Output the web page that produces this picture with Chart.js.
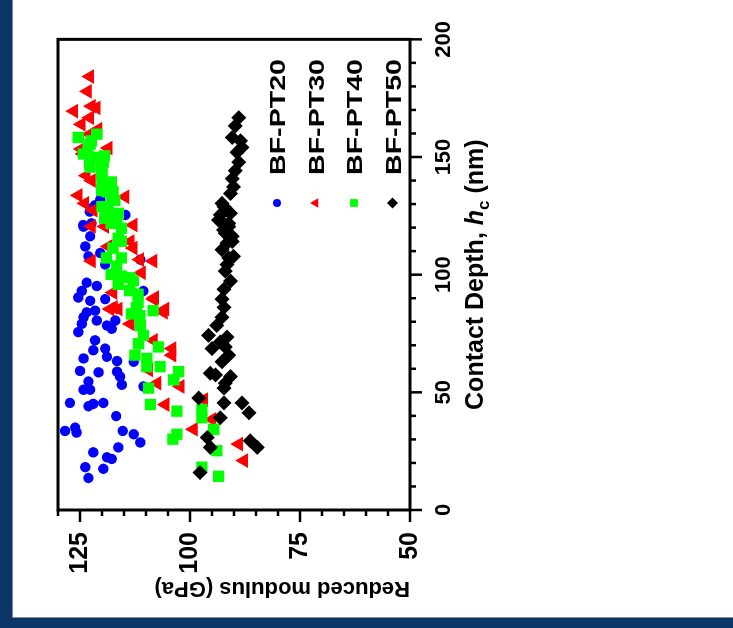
<!DOCTYPE html>
<html>
<head>
<meta charset="utf-8">
<script src="https://cdn.jsdelivr.net/npm/chart.js@4.4.1/dist/chart.umd.min.js"></script>
<style>
  html, body { margin: 0; padding: 0; width: 733px; height: 628px; overflow: hidden; background: #0a3768; }
  #panel { position: absolute; left: 12px; top: 0; width: 720px; height: 617px; background: #fff;
           border-left: 1px solid #8a8a8a; border-bottom: 1px solid #8a8a8a; }
  /* chart is drawn upright and turned a quarter turn to the left */
  #wrap { position: absolute; left: 0; top: 628px; width: 628px; height: 733px;
          transform-origin: 0 0; transform: rotate(-90deg); }
</style>
</head>
<body>
<div id="panel"></div>
<div id="wrap"><canvas id="chart"></canvas></div>
<script>
// data: contact depth (nm) vs reduced modulus (GPa)
const seriesNames = ["BF-PT20", "BF-PT30", "BF-PT40", "BF-PT50"];
const seriesColors = ["#0000ff", "#ff0000", "#00ff00", "#000000"];
const seriesStyles = ["circle", "triangle", "rect", "rectRot"];

const pt20Depth = [131.9, 129.5, 126.8, 121.1, 121.8, 128.2, 120.4, 116.3, 112.0, 107.8, 109.2, 104.3, 125.4, 106.4,
  96.6, 95.2, 93.1, 90.3, 88.9, 89.6, 84.0, 84.7, 81.9, 79.1, 75.6, 80.5, 78.4, 77.0, 80.5, 93.1, 72.1, 67.9, 68.6,
  65.1, 64.4, 63.3, 63.0, 59.1, 58.5, 58.8, 56.7, 54.6, 51.1, 51.1, 53.2, 52.5, 45.5, 44.1, 45.1, 45.5, 39.9, 33.6,
  35.0, 32.9, 33.6, 32.2, 28.7, 26.6, 24.5, 22.4, 21.7, 18.2, 17.5, 13.6];
const pt20Modulus = [120.4, 121.6, 122.8, 124.3, 122.4, 122.3, 124.2, 122.7, 123.8, 123.1, 120.4, 119.3, 114.7, 111.3,
  123.5, 121.2, 124.6, 125.4, 122.7, 119.3, 123.5, 121.6, 124.2, 124.6, 125.4, 121.2, 118.9, 117.8, 117.0, 110.6, 121.6,
  122.0, 119.3, 118.9, 124.2, 116.6, 112.8, 125.0, 120.8, 116.6, 115.9, 123.1, 122.7, 124.2, 115.5, 110.6, 127.3, 123.1,
  122.0, 119.7, 116.8, 128.4, 126.1, 125.8, 115.3, 112.8, 111.3, 116.3, 122.0, 118.9, 117.8, 123.8, 119.7, 123.1];

const pt30Depth = [184.2, 177.9, 169.5, 171.6, 170.9, 163.9, 166.7, 161.8, 159.7, 153.4, 153.8, 151.3, 142.1, 140.0,
  133.7, 130.3, 133.1, 127.4, 121.1, 120.5, 120.5, 112.0, 111.3, 106.4, 105.8, 105.8, 100.8, 92.4, 90.3, 85.4, 85.4,
  85.4, 114.1, 86.1, 89.6, 84.0, 79.1, 72.1, 68.6, 65.8, 59.5, 53.9, 52.5, 44.8, 46.9, 38.5, 34.3, 28.0, 21.0];
const pt30Modulus = [122.8, 123.3, 126.4, 122.4, 121.3, 124.7, 122.8, 120.9, 122.8, 124.7, 118.6, 124.3, 123.6, 122.4,
  125.4, 123.9, 114.8, 122.0, 112.9, 122.4, 119.4, 118.6, 112.9, 111.4, 108.4, 122.4, 111.0, 117.5, 108.0, 105.7, 116.3,
  118.2, 113.6, 117.4, 108.3, 106.0, 113.6, 108.3, 104.1, 104.1, 109.4, 107.5, 102.2, 105.6, 96.9, 95.0, 99.2, 88.9, 87.8];

const pt40Depth = [158.3, 159.7, 156.9, 155.5, 151.3, 149.9, 147.8, 145.7, 142.9, 140.0, 138.7, 135.2, 131.6, 128.9,
  124.7, 124.0, 154.1, 147.1, 150.5, 147.1, 142.1, 139.4, 135.8, 135.2, 131.6, 128.2, 126.1, 124.0, 121.8, 119.7,
  115.5, 114.2, 111.3, 107.1, 107.1, 103.7, 100.1, 99.4, 98.7, 97.4, 95.9, 93.2, 91.7, 88.2, 86.1, 83.3, 82.6, 84.7,
  78.4, 74.2, 70.7, 69.3, 65.8, 64.4, 60.9, 60.9, 58.8, 55.3, 51.8, 44.8, 42.0, 42.7, 39.2, 34.3, 32.2, 30.1, 25.2,
  18.2, 14.3];
const pt40Modulus = [125.4, 121.2, 122.4, 122.7, 124.2, 121.6, 119.7, 122.7, 120.0, 120.0, 118.2, 118.9, 117.8, 120.0,
  118.9, 116.6, 123.2, 122.8, 119.4, 120.1, 120.1, 117.9, 120.1, 117.5, 117.1, 118.6, 116.3, 119.4, 117.9, 115.6,
  116.3, 115.6, 117.5, 119.0, 115.6, 116.7, 117.9, 115.6, 113.7, 112.9, 116.3, 113.7, 111.8, 111.8, 112.2, 113.3, 111.4,
  108.4, 111.3, 110.6, 111.7, 107.2, 112.5, 109.8, 109.8, 106.8, 102.6, 103.7, 109.4, 109.0, 103.0, 97.3, 97.3, 94.6,
  103.0, 103.9, 93.9, 97.3, 93.5];

const pt50Depth = [166.7, 163.2, 158.3, 156.9, 152.0, 154.1, 147.8, 144.2, 140.8, 137.3, 134.5, 130.3, 127.4, 123.2,
  121.8, 119.0, 116.3, 128.9, 125.4, 126.1, 122.5, 117.6, 114.1, 110.6, 107.8, 104.3, 101.5, 97.3, 89.6, 86.1, 81.9,
  78.4, 74.2, 73.5, 71.4, 68.6, 65.8, 63.0, 58.1, 57.4, 56.7, 51.8, 47.6, 45.5, 45.5, 41.3, 39.2, 30.8, 26.6, 29.4,
  26.6, 15.9, 120.4, 113.4, 107.1, 93.8, 69.3, 53.9];
const pt50Modulus = [88.9, 89.7, 90.4, 88.5, 89.3, 88.2, 88.9, 89.7, 90.4, 90.1, 90.8, 92.7, 91.6, 93.5, 91.2, 92.4,
  90.4, 92.3, 93.1, 90.8, 92.7, 92.0, 90.4, 92.7, 90.1, 91.6, 92.0, 90.8, 92.7, 92.3, 92.7, 93.9, 95.8, 91.6, 93.1,
  95.0, 91.2, 92.7, 95.4, 94.2, 90.8, 92.3, 98.0, 92.3, 88.2, 86.6, 93.1, 96.1, 95.4, 86.3, 84.7, 97.7, 91.2, 91.6,
  91.2, 92.3, 92.0, 92.0];

const depthSeries = [pt20Depth, pt30Depth, pt40Depth, pt50Depth];
const modulusSeries = [pt20Modulus, pt30Modulus, pt40Modulus, pt50Modulus];

// axis setup
const depthMin = 0, depthMax = 200, depthMajor = 50, depthMinor = 10;
const modMin = 50, modMax = 130, modMajor = 25, modMinor = 5;
const FONT = "'Liberation Sans', Arial, sans-serif";
const depthTitle = [
  { t: "Contact Depth, ", font: "bold 25px " + FONT, dy: 0 },
  { t: "h", font: "italic bold 25px " + FONT, dy: 0 },
  { t: "c", font: "bold 17px " + FONT, dy: 6 },
  { t: " (nm)", font: "bold 25px " + FONT, dy: 0 }
];

Chart.defaults.font.family = FONT;
Chart.defaults.font.weight = "bold";
Chart.defaults.color = "#000";

const pointSizes = [5.2, 8.5, 8, 7.5];

const datasets = seriesNames.map((name, i) => ({
  label: name,
  data: depthSeries[i].map((d, k) => ({ x: d, y: modulusSeries[i][k] })),
  pointStyle: seriesStyles[i],
  pointRadius: pointSizes[i],
  backgroundColor: seriesColors[i],
  borderColor: seriesColors[i],
  borderWidth: 0,
  order: 4 - i
}));

function drawMarker(ctx, style, x, y, r) {
  ctx.beginPath();
  if (style === "circle") {
    ctx.arc(x, y, r, 0, Math.PI * 2);
  } else if (style === "triangle") {
    ctx.moveTo(x, y - r);
    ctx.lineTo(x + r * 0.866, y + r * 0.5);
    ctx.lineTo(x - r * 0.866, y + r * 0.5);
  } else if (style === "rect") {
    ctx.rect(x - r * 0.707, y - r * 0.707, r * 1.414, r * 1.414);
  } else {
    ctx.moveTo(x - r, y); ctx.lineTo(x, y - r); ctx.lineTo(x + r, y); ctx.lineTo(x, y + r);
  }
  ctx.closePath();
  ctx.fill();
}

const framePlugin = {
  id: "frame",
  afterDatasetsDraw(chart) {
    const { ctx, chartArea: a, scales: { x, y } } = chart;
    ctx.save();
    ctx.strokeStyle = "#000";
    ctx.lineWidth = 3;
    ctx.strokeRect(a.left, a.top, a.right - a.left, a.bottom - a.top);
    ctx.beginPath();
    for (let v = depthMin; v <= depthMax; v += depthMinor) {
      const px = x.getPixelForValue(v);
      ctx.moveTo(px, a.bottom);
      ctx.lineTo(px, a.bottom + (v % depthMajor === 0 ? 12 : 6));
    }
    for (let v = modMin; v <= modMax; v += modMinor) {
      const py = y.getPixelForValue(v);
      ctx.moveTo(a.left, py);
      ctx.lineTo(a.left - ((v - modMin) % modMajor === 0 ? 12 : 6), py);
    }
    ctx.lineWidth = 2.5;
    ctx.stroke();

    // depth axis title with italic h and subscript c
    ctx.fillStyle = "#000";
    ctx.textBaseline = "alphabetic";
    ctx.textAlign = "left";
    let total = 0;
    depthTitle.forEach(p => { ctx.font = p.font; total += ctx.measureText(p.t).width; });
    let cx = (a.left + a.right) / 2 - total / 2;
    depthTitle.forEach(p => {
      ctx.font = p.font;
      ctx.fillText(p.t, cx, a.bottom + 73 + p.dy);
      cx += ctx.measureText(p.t).width;
    });

    // legend in the lower right of the plot
    chart.data.datasets.forEach((ds, i) => {
      const rowY = a.top + 219 + i * 38.5;
      const mx = a.left + 307;
      ctx.fillStyle = seriesColors[i];
      drawMarker(ctx, seriesStyles[i], mx, rowY, i === 0 ? 4 : 5.5);
      ctx.fillStyle = "#000";
      ctx.font = "bold 22px " + FONT;
      ctx.save();
      ctx.translate(mx + 28, rowY + 8);
      ctx.scale(1.3, 1);
      ctx.fillText(ds.label, 0, 0);
      ctx.restore();
    });
    ctx.restore();
  }
};

new Chart(document.getElementById("chart"), {
  type: "scatter",
  data: { datasets },
  options: {
    responsive: true,
    maintainAspectRatio: false,
    animation: false,
    layout: { padding: { left: 0, right: 34, top: 58, bottom: 0 } },
    plugins: { legend: { display: false }, tooltip: { enabled: false } },
    scales: {
      x: {
        type: "linear", position: "bottom", min: depthMin, max: depthMax,
        afterFit(s) { s.height = 323; },
        grid: { display: false, drawTicks: false },
        border: { display: false },
        ticks: { stepSize: depthMajor, padding: 21, maxRotation: 0, font: { size: 22, weight: "bold" }, color: "#000" }
      },
      y: {
        type: "linear", position: "left", min: modMin, max: modMax,
        afterFit(s) { s.width = 118; },
        grid: { display: false, drawTicks: false },
        border: { display: false },
        ticks: { stepSize: modMajor, includeBounds: false, padding: 22, font: { size: 25, weight: "bold" }, color: "#000" },
        title: { display: true, text: "Reduced modulus (GPa)", align: "start", color: "#000",
                 font: { size: 22, weight: "bold" }, padding: { top: 27, bottom: 0 } }
      }
    }
  },
  plugins: [framePlugin]
});
</script>
</body>
</html>
